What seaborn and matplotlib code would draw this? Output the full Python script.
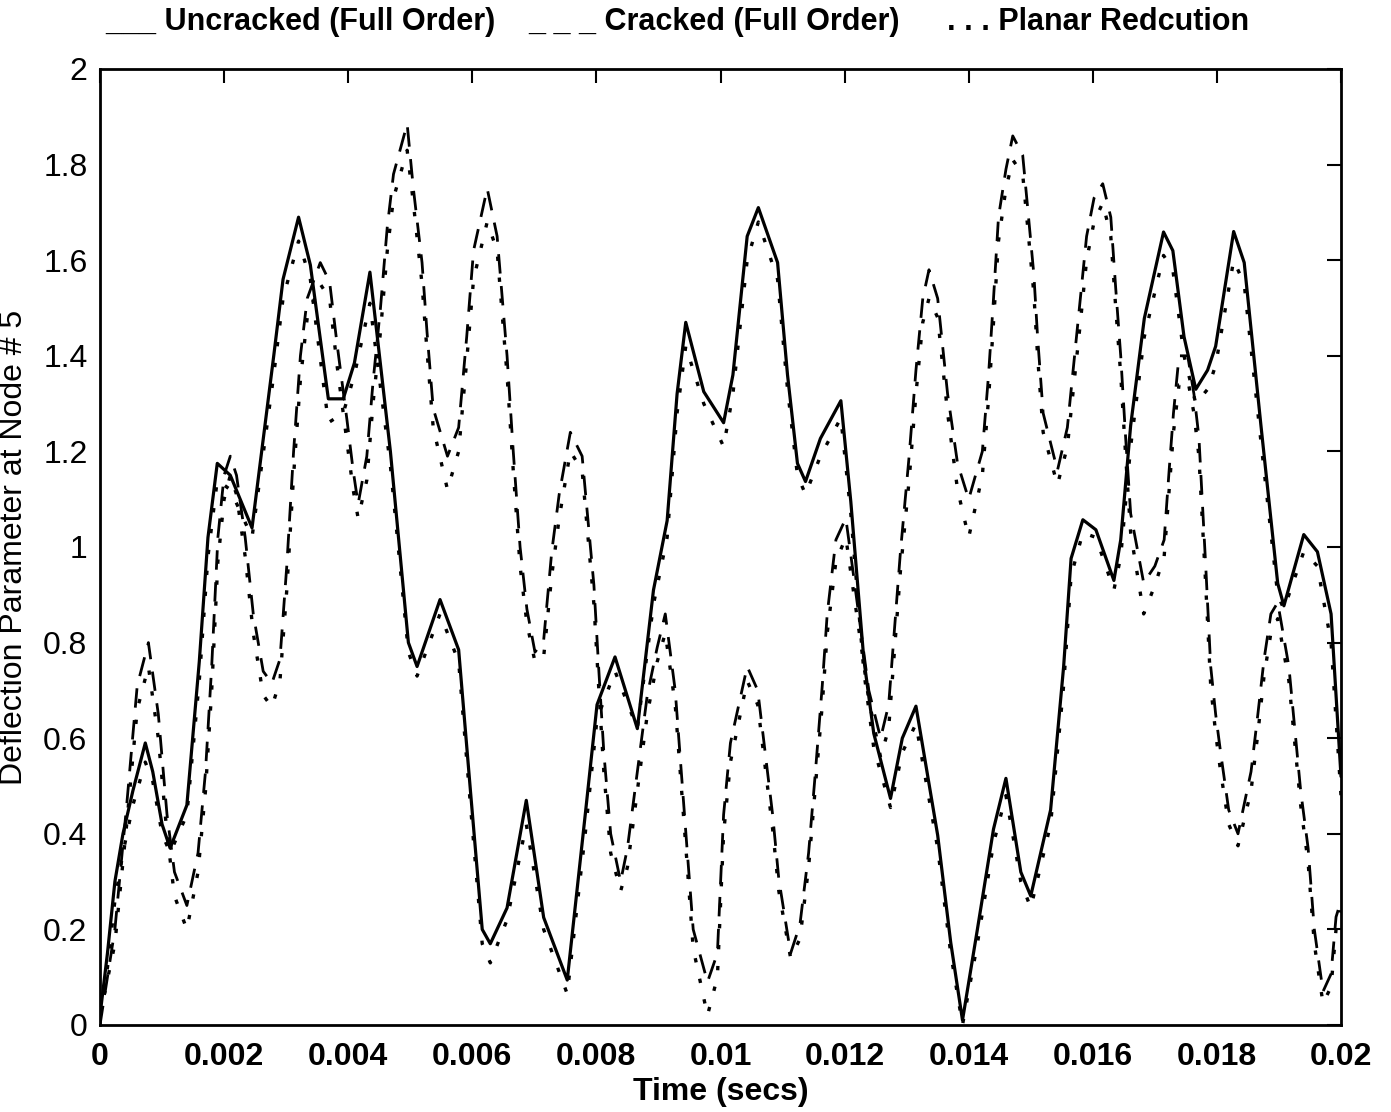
import numpy as np
import pandas as pd
import matplotlib
matplotlib.use("Agg")
import matplotlib.pyplot as plt
import seaborn as sns

# ---------------- data ----------------
time_uncracked_ms = [0.0, 0.12, 0.24, 0.37, 0.53, 0.73, 0.85, 1.0, 1.13, 1.4,
                     1.6, 1.74, 1.89, 2.1, 2.45, 2.8, 2.95, 3.2, 3.39, 3.68,
                     3.92, 4.1, 4.35, 4.68, 4.97, 5.11, 5.48, 5.78, 5.97, 6.16,
                     6.29, 6.56, 6.87, 7.15, 7.53, 7.82, 8.01, 8.3, 8.66, 8.92,
                     9.14, 9.3, 9.44, 9.73, 10.05, 10.2, 10.43, 10.61, 10.92, 11.08,
                     11.24, 11.37, 11.61, 11.94, 12.1, 12.31, 12.47, 12.74, 12.93, 13.15,
                     13.5, 13.71, 13.9, 14.14, 14.4, 14.6, 14.84, 15.0, 15.32, 15.53,
                     15.65, 15.84, 16.05, 16.34, 16.45, 16.61, 16.83, 17.14, 17.29, 17.47,
                     17.66, 17.85, 17.98, 18.27, 18.44, 18.71, 18.98, 19.08, 19.4, 19.62,
                     19.84, 20.0]
uncracked_full = [0.02, 0.15, 0.30, 0.40, 0.49, 0.59, 0.53, 0.42, 0.37, 0.46,
                  0.76, 1.02, 1.175, 1.15, 1.04, 1.40, 1.56, 1.69, 1.59, 1.31,
                  1.31, 1.385, 1.575, 1.20, 0.80, 0.75, 0.89, 0.785, 0.49, 0.20,
                  0.17, 0.245, 0.47, 0.225, 0.094, 0.44, 0.67, 0.77, 0.62, 0.91,
                  1.055, 1.32, 1.47, 1.325, 1.26, 1.36, 1.65, 1.71, 1.595, 1.36,
                  1.175, 1.137, 1.227, 1.306, 1.095, 0.765, 0.61, 0.474, 0.60, 0.667,
                  0.397, 0.173, 0.01, 0.20, 0.41, 0.516, 0.32, 0.27, 0.45, 0.75,
                  0.976, 1.057, 1.036, 0.93, 1.015, 1.254, 1.478, 1.659, 1.62, 1.44,
                  1.33, 1.37, 1.42, 1.66, 1.595, 1.254, 0.924, 0.877, 1.026, 0.99,
                  0.86, 0.52]
uncracked_planar = [0.03, 0.12, 0.26, 0.36, 0.46, 0.55, 0.51, 0.40, 0.36, 0.44,
                    0.72, 0.98, 1.14, 1.12, 1.02, 1.36, 1.52, 1.64, 1.56, 1.26,
                    1.28, 1.36, 1.51, 1.17, 0.78, 0.73, 0.86, 0.76, 0.46, 0.17,
                    0.13, 0.22, 0.42, 0.20, 0.065, 0.40, 0.64, 0.74, 0.62, 0.88,
                    1.02, 1.28, 1.42, 1.30, 1.21, 1.32, 1.60, 1.68, 1.56, 1.33,
                    1.15, 1.11, 1.19, 1.27, 1.07, 0.74, 0.58, 0.455, 0.57, 0.63,
                    0.37, 0.15, 0.0, 0.17, 0.38, 0.48, 0.30, 0.245, 0.42, 0.71,
                    0.94, 1.03, 1.02, 0.91, 0.98, 1.21, 1.44, 1.61, 1.58, 1.40,
                    1.30, 1.33, 1.38, 1.60, 1.55, 1.22, 0.90, 0.87, 0.99, 0.96,
                    0.80, 0.48]

time_cracked_ms = [0.0, 0.24, 0.43, 0.6, 0.78, 0.94, 1.08, 1.2, 1.4, 1.58,
                   1.7, 1.8, 1.9, 2.0, 2.1, 2.2, 2.34, 2.47, 2.63, 2.77,
                   2.9, 3.01, 3.12, 3.23, 3.34, 3.55, 3.7, 3.82, 3.98, 4.08,
                   4.16, 4.3, 4.4, 4.52, 4.63, 4.73, 4.95, 5.05, 5.19, 5.27,
                   5.37, 5.6, 5.78, 5.91, 6.02, 6.24, 6.4, 6.56, 6.66, 6.77,
                   6.88, 7.01, 7.15, 7.28, 7.4, 7.58, 7.77, 7.96, 8.04, 8.12,
                   8.23, 8.39, 8.5, 8.66, 8.82, 8.98, 9.11, 9.27, 9.46, 9.56,
                   9.79, 9.95, 10.05, 10.16, 10.43, 10.6, 10.84, 10.94, 11.13, 11.28,
                   11.42, 11.53, 11.64, 11.72, 11.86, 12.02, 12.15, 12.39, 12.58, 12.71,
                   12.9, 13.04, 13.15, 13.26, 13.36, 13.5, 13.66, 13.82, 14.0, 14.22,
                   14.32, 14.4, 14.48, 14.6, 14.71, 14.87, 14.95, 15.05, 15.11, 15.2,
                   15.43, 15.59, 15.8, 15.9, 16.02, 16.16, 16.29, 16.37, 16.45, 16.53,
                   16.61, 16.82, 17.0, 17.15, 17.23, 17.3, 17.39, 17.53, 17.63, 17.71,
                   17.82, 17.9, 17.98, 18.06, 18.19, 18.34, 18.55, 18.66, 18.76, 18.87,
                   18.98, 19.16, 19.35, 19.47, 19.57, 19.71, 19.84, 19.92, 20.0]
cracked_full = [0.0, 0.20, 0.46, 0.71, 0.80, 0.65, 0.44, 0.32, 0.25, 0.36,
                0.53, 0.75, 1.02, 1.15, 1.19, 1.15, 1.02, 0.86, 0.74, 0.715,
                0.765, 0.96, 1.2, 1.40, 1.52, 1.595, 1.555, 1.425, 1.266, 1.16,
                1.09, 1.19, 1.345, 1.50, 1.67, 1.78, 1.885, 1.75, 1.595, 1.45,
                1.29, 1.19, 1.25, 1.44, 1.62, 1.75, 1.65, 1.40, 1.20, 1.00,
                0.87, 0.78, 0.805, 0.99, 1.11, 1.24, 1.19, 0.92, 0.74, 0.57,
                0.40, 0.30, 0.37, 0.53, 0.69, 0.79, 0.86, 0.70, 0.37, 0.20,
                0.09, 0.15, 0.44, 0.59, 0.75, 0.70, 0.44, 0.305, 0.15, 0.21,
                0.36, 0.53, 0.71, 0.86, 1.015, 1.06, 0.935, 0.70, 0.60, 0.67,
                0.99, 1.19, 1.37, 1.52, 1.58, 1.52, 1.32, 1.175, 1.10, 1.20,
                1.36, 1.52, 1.69, 1.79, 1.86, 1.82, 1.71, 1.57, 1.44, 1.28,
                1.16, 1.25, 1.52, 1.65, 1.73, 1.76, 1.69, 1.54, 1.40, 1.227,
                1.07, 0.925, 0.96, 1.015, 1.16, 1.28, 1.40, 1.40, 1.32, 1.23,
                0.96, 0.75, 0.65, 0.57, 0.45, 0.40, 0.53, 0.65, 0.765, 0.86,
                0.884, 0.75, 0.49, 0.37, 0.20, 0.07, 0.107, 0.226, 0.26]
cracked_planar = [0.02, 0.17, 0.42, 0.66, 0.75, 0.60, 0.40, 0.27, 0.20, 0.32,
                  0.49, 0.70, 0.97, 1.10, 1.15, 1.11, 0.98, 0.82, 0.69, 0.665,
                  0.72, 0.91, 1.15, 1.35, 1.48, 1.55, 1.52, 1.38, 1.22, 1.12,
                  1.06, 1.14, 1.30, 1.45, 1.62, 1.73, 1.83, 1.72, 1.55, 1.41,
                  1.25, 1.12, 1.20, 1.39, 1.56, 1.68, 1.62, 1.36, 1.16, 0.96,
                  0.84, 0.76, 0.77, 0.94, 1.06, 1.20, 1.16, 0.88, 0.70, 0.53,
                  0.36, 0.28, 0.33, 0.49, 0.65, 0.76, 0.82, 0.67, 0.34, 0.16,
                  0.02, 0.10, 0.40, 0.55, 0.72, 0.67, 0.41, 0.28, 0.14, 0.18,
                  0.33, 0.50, 0.67, 0.82, 0.97, 1.02, 0.90, 0.68, 0.56, 0.62,
                  0.95, 1.14, 1.32, 1.47, 1.52, 1.48, 1.28, 1.12, 1.02, 1.15,
                  1.31, 1.47, 1.64, 1.75, 1.81, 1.78, 1.67, 1.53, 1.40, 1.24,
                  1.13, 1.21, 1.47, 1.60, 1.68, 1.72, 1.65, 1.50, 1.36, 1.19,
                  1.03, 0.86, 0.92, 0.98, 1.12, 1.24, 1.34, 1.35, 1.28, 1.19,
                  0.92, 0.71, 0.61, 0.53, 0.42, 0.375, 0.49, 0.61, 0.73, 0.82,
                  0.85, 0.72, 0.46, 0.34, 0.17, 0.045, 0.08, 0.20, 0.24]

x_ticks = [0, 0.002, 0.004, 0.006, 0.008, 0.01, 0.012, 0.014, 0.016, 0.018, 0.02]
x_tick_labels = ["0", "0.002", "0.004", "0.006", "0.008", "0.01", "0.012",
                 "0.014", "0.016", "0.018", "0.02"]
y_ticks = [0, 0.2, 0.4, 0.6, 0.8, 1.0, 1.2, 1.4, 1.6, 1.8, 2.0]
y_tick_labels = ["0", "0.2", "0.4", "0.6", "0.8", "1", "1.2", "1.4", "1.6", "1.8", "2"]

legend_items = ["___ Uncracked (Full Order)",
                "_ _ _ Cracked (Full Order)",
                ". . . Planar Redcution"]
x_label = "Time (secs)"
y_label = "Deflection Parameter at Node # 5"

# ---------------- styling ----------------
sns.set_theme(style="white")
plt.rcParams["font.family"] = ["Liberation Sans", "DejaVu Sans"]
plt.rcParams["axes.edgecolor"] = "black"
plt.rcParams["axes.linewidth"] = 2.0

W, H = 1391, 1112
fig = plt.figure(figsize=(W / 100, H / 100), dpi=100)
ax = fig.add_axes([100 / W, (H - 1025) / H, (1341 - 100) / W, (1025 - 69) / H])


def frame(t_ms, vals):
    return pd.DataFrame({"t": np.asarray(t_ms) * 1e-3, "v": vals})


series = [
    (frame(time_uncracked_ms, uncracked_full), "-", 2.3),
    (frame(time_cracked_ms, cracked_full), (0, (7, 4.5)), 2.0),
    (frame(time_uncracked_ms, uncracked_planar), (0, (1.3, 5.0)), 2.4),
    (frame(time_cracked_ms, cracked_planar), (0, (1.3, 5.0)), 2.4),
]
for df, ls, lw in series:
    sns.lineplot(data=df, x="t", y="v", ax=ax, sort=False, estimator=None,
                 color="black", linestyle=ls, linewidth=lw)

ax.set_xlim(0, 0.02)
ax.set_ylim(0, 2)
ax.set_xticks(x_ticks)
ax.set_xticklabels(x_tick_labels, fontsize=23, fontweight="bold")
ax.set_yticks(y_ticks)
ax.set_yticklabels(y_tick_labels, fontsize=23)
ax.tick_params(axis="both", direction="in", length=10, width=1.5,
               top=True, right=True, colors="black")
ax.tick_params(axis="x", pad=12)
ax.tick_params(axis="y", pad=9)
for s in ax.spines.values():
    s.set_visible(True)
    s.set_color("black")
    s.set_linewidth(2.0)

ax.set_xlabel(x_label, fontsize=23, fontweight="bold", labelpad=4, color="black")
ax.set_ylabel(y_label, fontsize=23, labelpad=10, color="black")

legend_x_px = [105, 528, 947]
for txt, xp in zip(legend_items, legend_x_px):
    fig.text(xp / W, 1 - 22 / H, txt, ha="left", va="center", fontsize=22,
             fontweight="bold", color="black")

fig.savefig("out.png", dpi=100, facecolor="white")
